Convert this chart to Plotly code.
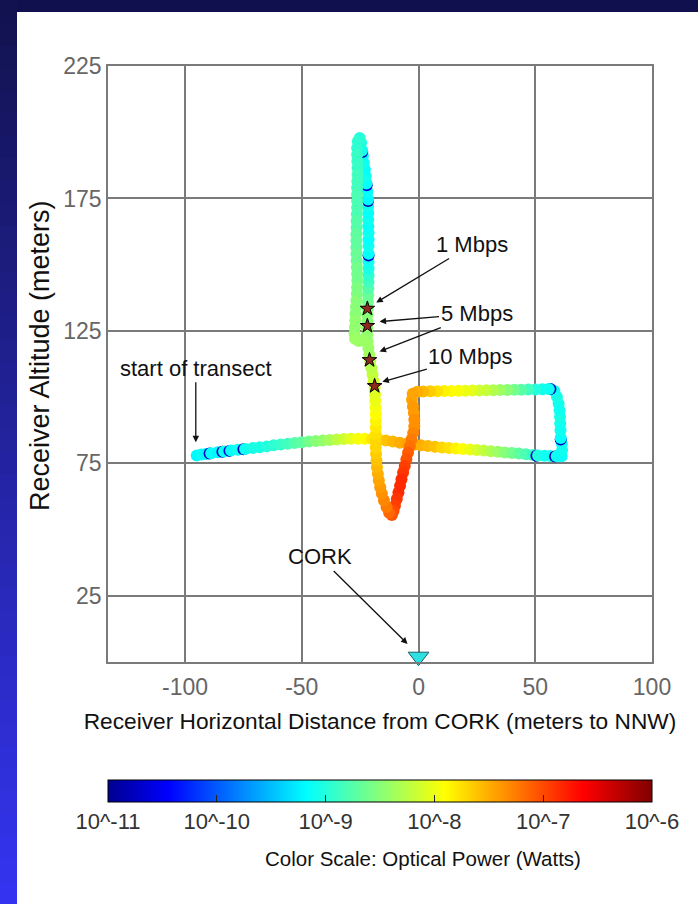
import plotly.graph_objects as go

# ---------------- data ----------------
# receiver track: horizontal distance (m), altitude (m), log10 optical power (W)
track_x = [
    # westward start -> east along ~80 m
    -95, -93, -91, -89.5, -88.8, -86, -84, -83.3, -81, -80.3, -77.5, -75, -74.3, -71, -68, -65, -62, -59, -56, -53,
    -50, -47, -44, -41, -38, -35, -32, -29, -26, -23, -20, -17, -14, -11, -8, -5, -2, 1, 4, 7,
    10, 13, 16, 19, 22, 25, 28, 31, 34, 37, 40, 43, 46, 49, 50.5, 51.2, 54, 56.5, 58.5, 59.2, 61.3,
    # east edge going up
    61.5, 61.4, 60.9, 60.9, 60.8, 60.7, 60.6, 60.4, 60.0, 59.3, 58.2,
    # top edge going west
    56.5, 55.8, 53, 50, 47, 44, 41, 38, 35, 32, 29, 26, 23, 20, 17, 14, 11, 8, 5, 2, -0.5, -2.5,
    # down the west edge to bottom of the V
    -2.8, -2.4, -2.0, -1.8, -1.8, -2.3, -3.0, -3.7, -4.5, -5.2, -5.9, -6.6, -7.3, -7.9, -8.6, -9.3, -10.1, -10.7, -11.4,
    # up the other branch of the V
    -12.6, -13.7, -14.8, -15.7, -16.4, -17.0, -17.4, -17.8, -18.0, -18.2, -18.3, -18.3, -18.3, -18.3, -18.3, -18.3,
    -18.4, -18.5, -18.6, -18.8, -19.2, -19.7, -20.2, -20.7, -21.1, -21.5, -21.8,
    # climbing to the top
    -22.0, -22.0, -21.9, -21.9, -21.8, -21.7, -21.6, -21.5, -21.4, -21.4, -21.4, -21.4, -21.4, -21.4, -21.4, -21.4,
    -21.4, -21.5, -21.5, -21.5, -21.6, -21.6, -21.6, -21.9, -22.2, -22.3, -22.6, -23.0, -23.4, -23.8, -24.1, -24.2,
    -24.6, -25.2,
    # descending again
    -26.0, -26.3, -26.3, -26.2, -26.1, -26.1, -26.2, -26.3, -26.3, -26.3, -26.3, -26.4, -26.5, -26.5, -26.6, -26.6,
    -26.6, -26.6, -26.5, -26.4, -26.3, -26.2, -26.3, -26.4, -26.6, -26.8, -27.0, -27.1, -27.2, -27.4, -27.2, -25.6,
    -23.8,
]
track_y = [
    78.0, 78.3, 78.5, 78.7, 78.8, 79.2, 79.4, 79.5, 79.7, 79.8, 80.1, 80.3, 80.4, 80.8, 81.1, 81.4, 81.8, 82.1, 82.4, 82.7,
    83.0, 83.2, 83.4, 83.6, 83.8, 84.0, 84.2, 84.3, 84.3, 84.3, 84.2, 84.0, 83.6, 83.2, 82.8, 82.4, 82.0, 81.8, 81.5, 81.3,
    81.0, 80.8, 80.6, 80.4, 80.2, 80.0, 79.8, 79.6, 79.4, 79.1, 78.9, 78.7, 78.4, 78.1, 77.9, 78.0, 77.9, 77.8, 77.6, 77.7, 77.7,
    80.0, 82.3, 84.0, 84.6, 87.5, 90.0, 92.5, 95.0, 97.5, 100.0, 102.3,
    103.1, 103.1, 103.0, 102.9, 102.9, 102.8, 102.8, 102.7, 102.7, 102.6, 102.6, 102.5, 102.5, 102.4, 102.4, 102.3, 102.3,
    102.2, 102.2, 102.1, 102.0, 101.3,
    99.0, 96.5, 94.0, 91.5, 89.0, 86.5, 84.0, 81.5, 79.0, 76.5, 74.0, 71.5, 69.0, 66.5, 64.0, 61.5, 59.0, 57.0, 55.5,
    56.3, 58.5, 61.0, 63.5, 66.0, 68.5, 71.0, 73.5, 76.0, 78.5, 81.0, 83.5, 86.0, 88.5, 91.0, 93.5,
    96.0, 98.5, 101.0, 103.5, 106.0, 108.5, 111.0, 113.5, 116.0, 118.5, 121.0,
    123.5, 126.0, 128.5, 131.0, 133.5, 136.0, 138.5, 141.0, 143.5, 146.0, 148.5, 151.0, 153.5, 154.1, 157.0, 159.5,
    162.0, 164.5, 167.0, 169.5, 172.0, 174.0, 174.6, 177.5, 180.0, 180.6, 183.5, 186.0, 188.5, 191.0, 192.5, 193.1,
    196.0, 197.8,
    196.5, 194.0, 191.5, 189.0, 186.5, 184.0, 181.5, 179.0, 176.5, 174.0, 171.5, 169.0, 166.5, 164.0, 161.5, 159.0,
    156.5, 154.0, 151.5, 149.0, 146.5, 144.0, 141.5, 139.0, 136.5, 134.0, 131.5, 129.0, 126.5, 124.0, 122.0, 121.2,
    121.5,
]
track_logp = [
    -9.2, -9.15, -9.2, -10.7, -9.15, -9.2, -10.8, -9.1, -10.6, -9.15, -9.1, -10.7, -9.1, -9.05, -9.05, -9.0, -8.95, -8.9, -8.85, -8.75,
    -8.7, -8.6, -8.5, -8.45, -8.35, -8.25, -8.15, -8.05, -7.95, -7.9, -7.8, -7.7, -7.6, -7.55, -7.5, -7.45, -7.45, -7.5, -7.55, -7.6,
    -7.7, -7.75, -7.85, -7.9, -8.0, -8.1, -8.2, -8.3, -8.4, -8.5, -8.6, -8.7, -8.8, -8.9, -10.7, -9.0, -9.1, -9.1, -10.8, -9.1, -9.15,
    -9.1, -9.1, -10.7, -9.15, -9.1, -9.1, -9.05, -9.1, -9.1, -9.05, -9.1,
    -10.7, -9.1, -9.1, -9.0, -8.85, -8.75, -8.6, -8.5, -8.4, -8.3, -8.2, -8.15, -8.05, -8.0, -7.95, -7.9, -7.85,
    -7.75, -7.65, -7.55, -7.5, -7.45,
    -7.45, -7.4, -7.4, -7.35, -7.35, -7.3, -7.25, -7.2, -7.1, -7.05, -6.95, -6.9, -6.85, -6.85, -6.85, -6.9, -6.95, -7.0, -7.05,
    -7.15, -7.25, -7.3, -7.35, -7.4, -7.45, -7.5, -7.55, -7.6, -7.65, -7.7, -7.7, -7.75, -7.8, -7.85, -7.9,
    -7.95, -8.0, -8.05, -8.1, -8.15, -8.2, -8.25, -8.3, -8.35, -8.4, -8.4,
    -8.45, -8.45, -8.5, -8.5, -8.55, -8.6, -8.65, -8.75, -8.85, -8.95, -9.05, -9.1, -10.7, -9.15, -9.1, -9.15,
    -9.1, -9.15, -9.1, -9.15, -9.1, -10.8, -9.2, -9.15, -10.6, -9.15, -9.1, -9.15, -9.1, -9.15, -10.7, -9.1,
    -9.05, -9.0,
    -8.95, -8.95, -8.9, -8.9, -8.9, -8.85, -8.85, -8.85, -8.8, -8.8, -8.8, -8.8, -8.75, -8.75, -8.7, -8.7,
    -8.7, -8.65, -8.65, -8.6, -8.6, -8.6, -8.55, -8.55, -8.5, -8.5, -8.5, -8.45, -8.45, -8.45, -8.4, -8.4,
    -8.4,
]

# data-rate markers (stars)
star_x = [-21.9, -21.9, -21.0, -18.8]
star_y = [133.4, 126.9, 114.0, 104.2]

# CORK position
cork_x = [0]
cork_y = [2]

x_ticks = [-100, -50, 0, 50, 100]
x_tick_text = ["-100", "-50", "0", "50", "100"]
y_ticks = [25, 75, 125, 175, 225]
cbar_vals = [-11, -10, -9, -8, -7, -6]
cbar_text = ["10^-11", "10^-10", "10^-9", "10^-8", "10^-7", "10^-6"]

FONT = "Liberation Sans, Arial, sans-serif"

jet = [[0.0, "rgb(0,0,143)"], [0.111, "rgb(0,0,255)"], [0.365, "rgb(0,255,255)"],
       [0.619, "rgb(255,255,0)"], [0.873, "rgb(255,0,0)"], [1.0, "rgb(128,0,0)"]]

# ---------- frame geometry ----------
L, R, T, B = 108, 46, 66, 242
W, H = 698, 904
PW, PH = W - L - R, H - T - B


def px(xp):
    return (xp - L) / PW


def py(yp):
    return (H - B - yp) / PH


fig = go.Figure()

fig.add_trace(go.Scatter(
    x=track_x, y=track_y, mode="markers", showlegend=False, hoverinfo="skip",
    marker=dict(size=12, color=track_logp, colorscale=jet, cmin=-11, cmax=-6,
                line=dict(width=0),
                colorbar=dict(orientation="h", x=0.5, xanchor="center", y=py(780), yanchor="top",
                              len=1, lenmode="fraction", thickness=22, thicknessmode="pixels",
                              xpad=0, ypad=0, outlinewidth=1, outlinecolor="black",
                              tickmode="array", tickvals=cbar_vals, ticktext=cbar_text,
                              ticks="inside", ticklen=7, tickcolor="#222", tickwidth=1,
                              tickfont=dict(family=FONT, size=22, color="#333")))))

fig.add_trace(go.Scatter(
    x=star_x, y=star_y, mode="markers", showlegend=False, hoverinfo="skip",
    marker=dict(symbol="star", size=11, color="#8e2a1c", line=dict(color="black", width=1))))

fig.add_trace(go.Scatter(
    x=cork_x, y=cork_y, mode="markers", showlegend=False, hoverinfo="skip", cliponaxis=False,
    marker=dict(symbol="triangle-down", size=18, color="#2fe0e0", line=dict(color="#1d5f6a", width=1))))

# ---------- annotations ----------
ann_font = dict(family=FONT, size=22, color="#111")
arrow = dict(showarrow=True, arrowhead=2, arrowsize=1, arrowwidth=1.3, arrowcolor="#111")
annotations = [
    dict(x=-95.4, y=83.0, ax=0, ay=-74, text="start of transect", font=ann_font, **arrow),
    dict(x=-18.1, y=135.7, ax=96, ay=-58, text="1 Mbps", font=ann_font, **arrow),
    dict(x=-16.7, y=128.5, ax=97, ay=-8, text="5 Mbps", font=ann_font, **arrow),
    dict(x=-16.7, y=117.2, ax=97, ay=-38, text="5 Mbps", font=dict(family=FONT, size=22, color="rgba(0,0,0,0)"), **arrow),
    dict(x=-15.5, y=105.8, ax=88, ay=-25, text="10 Mbps", font=ann_font, **arrow),
    dict(x=-4.7, y=6.8, ax=-88, ay=-87, text="CORK", font=ann_font, **arrow),
    dict(xref="paper", yref="paper", x=px(423), y=py(858), xanchor="center", yanchor="middle",
         showarrow=False, text="Color Scale: Optical Power (Watts)",
         font=dict(family=FONT, size=20.5, color="#111")),
    dict(xref="paper", yref="paper", x=px(40), y=py(356), xanchor="center", yanchor="middle",
         showarrow=False, textangle=-90, text="Receiver Altitude (meters)",
         font=dict(family=FONT, size=27, color="#111")),
]

# ---------- background frame (navy border) ----------
shapes = [dict(type="rect", xref="paper", yref="paper", x0=px(0), x1=px(W), y0=py(12), y1=py(0),
               fillcolor="#10104f", line=dict(width=0), layer="below")]
n = 40
top_c, bot_c = (18, 18, 80), (52, 52, 240)
for i in range(n):
    t = i / (n - 1)
    c = tuple(round(top_c[k] + (bot_c[k] - top_c[k]) * t) for k in range(3))
    shapes.append(dict(type="rect", xref="paper", yref="paper", x0=px(0), x1=px(17),
                       y0=py(H * (i + 1) / n + 1), y1=py(H * i / n),
                       fillcolor="rgb(%d,%d,%d)" % c, line=dict(width=0), layer="below"))

axis_common = dict(showgrid=True, gridcolor="#7a7a7a", gridwidth=1.5, zeroline=False,
                   showline=True, linecolor="#7a7a7a", linewidth=1.5, mirror=True, ticks="",
                   tickfont=dict(family=FONT, size=23, color="#666666"))

fig.update_layout(
    width=W, height=H, autosize=False,
    margin=dict(l=L, r=R, t=T, b=B, pad=0),
    paper_bgcolor="white", plot_bgcolor="white",
    xaxis=dict(range=[-133, 100], tickmode="array", tickvals=x_ticks, ticktext=x_tick_text,
               ticklabelstandoff=4,
               title=dict(text="Receiver Horizontal Distance from CORK (meters to NNW)",
                          font=dict(family=FONT, size=22.7, color="#111"), standoff=14),
               **axis_common),
    yaxis=dict(range=[0, 225], tickmode="array", tickvals=y_ticks, ticklabelstandoff=0,
               **axis_common),
    annotations=annotations,
    shapes=shapes,
)

fig.write_html("out.html", config={"displayModeBar": False},
               post_script="document.body.style.margin='0';document.body.style.padding='0';")
